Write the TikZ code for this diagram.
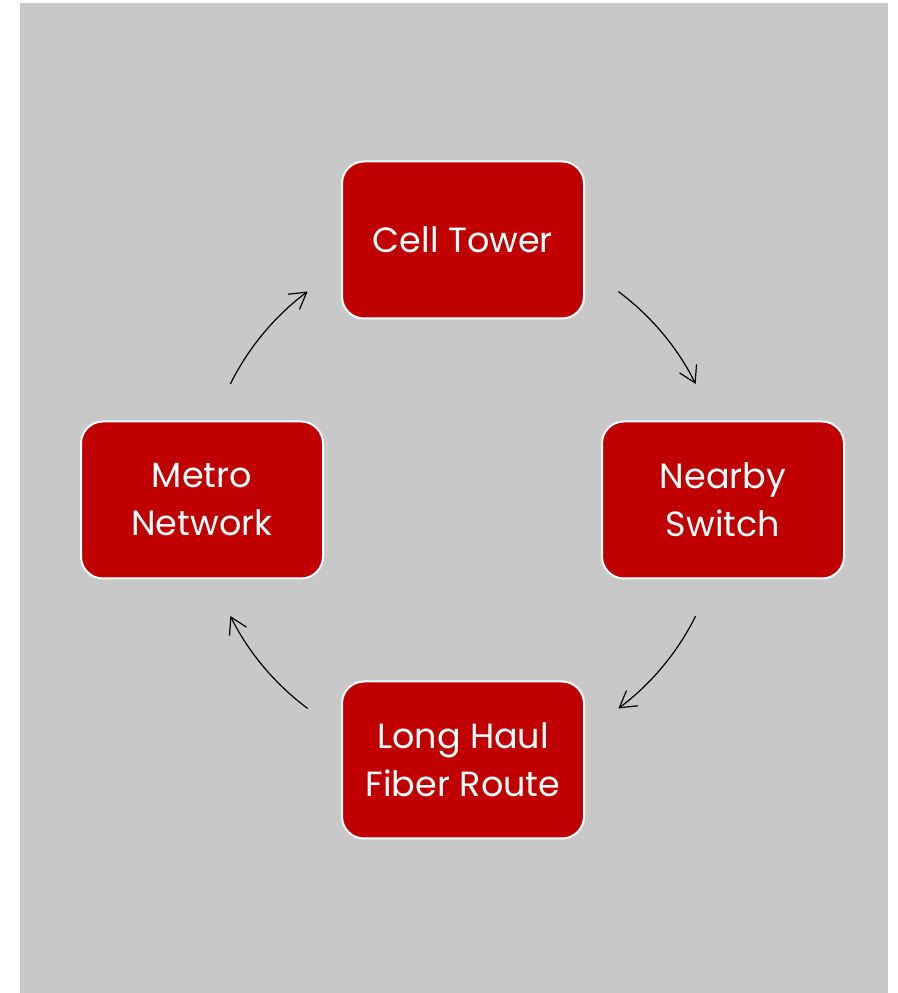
\documentclass[tikz,border=0pt]{standalone}
\usepackage{fontspec}
\setmainfont{Poppins}
\usetikzlibrary{arrows.meta,calc}
\definecolor{bggray}{RGB}{200,200,200}
\definecolor{boxred}{RGB}{192,0,0}
\tikzset{
  stepbox/.style={draw=white, line width=2pt, fill=boxred, rounded corners=22pt,
    minimum width=242pt, minimum height=157pt, text=white, align=center,
    font=\fontsize{35}{48}\selectfont, inner sep=0pt},
  cyclearrow/.style={line width=1.2pt, black, -{Straight Barb[length=16pt,width=19pt,line width=1.2pt]}}
}
\begin{document}
\begin{tikzpicture}[x=1pt,y=1pt]
\useasboundingbox (0,0) rectangle (897,993);
\fill[bggray] (20,0) rectangle (888,990);
\coordinate (ctr) at (463,493);
\node[stepbox] (tower) at (463,753) {Cell Tower};
\node[stepbox] (switch) at (723,493) {Nearby\\Switch};
\node[stepbox] (metro) at (202,493) {Metro\\Network};
\node[stepbox] (haul) at (463,233) {Long Haul\\Fiber Route};
\coordinate (a1s) at ($(ctr)+(53.3:260)$);
\coordinate (a2s) at ($(ctr)+(-26.5:260)$);
\coordinate (a3s) at ($(ctr)+(233.3:260)$);
\coordinate (a4s) at ($(ctr)+(153.5:260)$);
\draw[cyclearrow] (a1s) arc[start angle=53.3, end angle=26.5, radius=260];
\draw[cyclearrow] (a2s) arc[start angle=-26.5, end angle=-53.3, radius=260];
\draw[cyclearrow] (a3s) arc[start angle=233.3, end angle=206.5, radius=260];
\draw[cyclearrow] (a4s) arc[start angle=153.5, end angle=126.7, radius=260];
\end{tikzpicture}
\end{document}
